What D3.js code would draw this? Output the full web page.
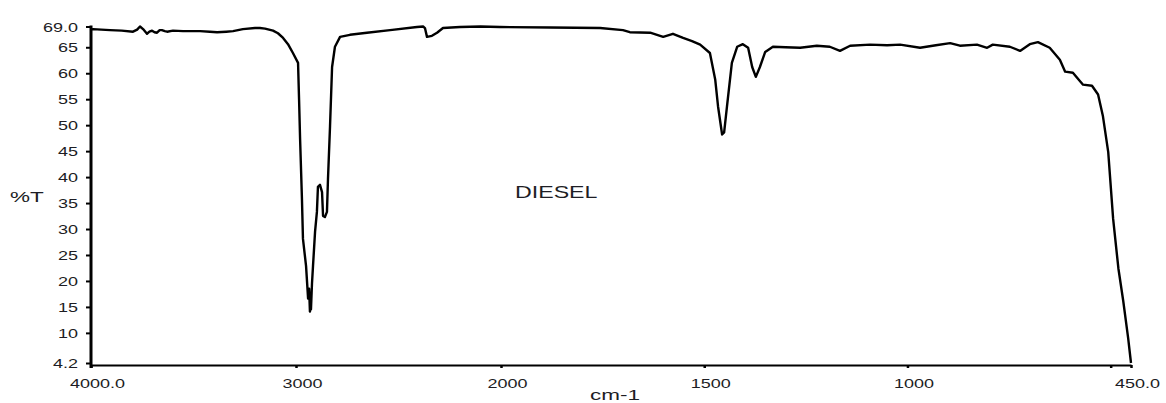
<!DOCTYPE html>
<html>
<head>
<meta charset="utf-8">
<script src="https://cdn.jsdelivr.net/npm/d3@7"></script>
<style>
  body { margin: 0; background: #fff; }
  text { font-family: "Liberation Sans", Arial, sans-serif; fill: #1d1d24; }
</style>
</head>
<body>
<div id="chart"></div>
<script>
// --- datos del espectro ---
const wavenumbers = [4000, 3990, 3950, 3907, 3850, 3795, 3775, 3761, 3746, 3727, 3715, 3702, 3690, 3678, 3665, 3654, 3640, 3629, 3600, 3551, 3500, 3468, 3420, 3385, 3340, 3307, 3259, 3200, 3176, 3151, 3112, 3088, 3063, 3039, 3015, 2990, 2985, 2980, 2971, 2966, 2951, 2941, 2936, 2932, 2929, 2927, 2922, 2917, 2907, 2898, 2893, 2883, 2873, 2868, 2859, 2849, 2844, 2834, 2824, 2810, 2785, 2737, 2654, 2541, 2410, 2380, 2371, 2361, 2337, 2312, 2283, 2200, 2100, 2005, 1879, 1756, 1700, 1683, 1633, 1601, 1577, 1552, 1530, 1510, 1486, 1473, 1466, 1456, 1451, 1444, 1432, 1419, 1405, 1392, 1382, 1373, 1363, 1350, 1331, 1300, 1264, 1223, 1191, 1166, 1141, 1092, 1050, 1018, 969, 930, 895, 871, 829, 804, 790, 748, 723, 699, 679, 650, 625, 612, 593, 568, 546, 531, 519, 506, 494, 481, 469, 457, 450];
const transmittance = [68.4, 68.5, 68.4, 68.3, 68.2, 68.0, 68.4, 69.0, 68.5, 67.6, 68.0, 68.2, 67.9, 67.8, 68.3, 68.3, 68.1, 68.0, 68.2, 68.1, 68.1, 68.1, 68.0, 67.9, 68.0, 68.1, 68.5, 68.7, 68.7, 68.6, 68.2, 67.7, 66.8, 65.6, 63.9, 62.0, 54.9, 47.3, 35.8, 28.1, 22.9, 16.6, 18.5, 14.1, 17.0, 14.5, 19.5, 22.9, 29.5, 33.3, 38.1, 38.5, 37.1, 32.5, 32.3, 33.3, 39.6, 49.8, 61.2, 65.1, 67.0, 67.4, 67.8, 68.3, 68.9, 69.0, 68.7, 67.0, 67.2, 67.8, 68.7, 68.9, 69.0, 68.9, 68.8, 68.7, 68.3, 67.9, 67.8, 67.0, 67.6, 66.8, 66.2, 65.5, 63.9, 58.8, 53.6, 48.2, 48.6, 53.6, 62.0, 65.1, 65.6, 64.9, 61.2, 59.3, 61.2, 64.1, 65.1, 65.0, 64.9, 65.3, 65.1, 64.3, 65.3, 65.5, 65.4, 65.5, 64.9, 65.4, 65.8, 65.3, 65.5, 64.9, 65.5, 65.1, 64.3, 65.6, 66.0, 64.9, 62.6, 60.3, 60.1, 57.8, 57.6, 55.9, 51.7, 44.8, 32.0, 22.4, 16.1, 9.0, 4.2];

// ticks
const xTicks = [4000, 3000, 2000, 1500, 1000, 500, 450];
const xTickLabels = ["4000.0", "3000", "2000", "1500", "1000", "", "450.0"];
const yTicks = [69.0, 65, 60, 55, 50, 45, 40, 35, 30, 25, 20, 15, 10, 4.2];
const yTickLabels = ["69.0", "65", "60", "55", "50", "45", "40", "35", "30", "25", "20", "15", "10", "4.2"];

const W = 1166, H = 403;
const STRETCH = 1.5; // el texto original está ensanchado

const svg = d3.select("#chart").append("svg")
  .attr("width", W).attr("height", H);

// escala x partida en 2000 cm-1 (doble resolución debajo)
const x = d3.scaleLinear()
  .domain([4000, 2000, 450])
  .range([91, 501, 1131]);

const y = d3.scaleLinear()
  .domain([4.2, 69.0])
  .range([363, 26.5]);

// --- eje Y ---
const yAxis = svg.append("g")
  .attr("transform", "translate(91,0)")
  .call(d3.axisLeft(y)
    .tickValues(yTicks)
    .tickSize(5)
    .tickSizeOuter(0)
    .tickFormat((d, i) => yTickLabels[i]));

yAxis.select(".domain").remove();
yAxis.append("line")
  .attr("x1", 0).attr("x2", 0)
  .attr("y1", y(69.0) - 1).attr("y2", y(4.2) + 5)
  .attr("stroke", "#000").attr("stroke-width", 3);
yAxis.selectAll(".tick line").attr("stroke", "#000").attr("stroke-width", 2);
yAxis.selectAll(".tick text")
  .attr("x", null).attr("dy", null)
  .attr("transform", `translate(-13,4.5) scale(${STRETCH},1)`)
  .style("font-size", "12px");

// --- eje X ---
const xAxis = svg.append("g")
  .attr("transform", `translate(0,${y(4.2) + 2})`)
  .call(d3.axisBottom(x)
    .tickValues(xTicks)
    .tickSize(3)
    .tickSizeOuter(0)
    .tickFormat((d, i) => xTickLabels[i]));

xAxis.select(".domain").attr("stroke", "#000").attr("stroke-width", 2);
xAxis.selectAll(".tick line").attr("stroke", "#000").attr("stroke-width", 2.5);
xAxis.selectAll(".tick text")
  .attr("y", null).attr("dy", null)
  .attr("transform", `translate(6,23) scale(${STRETCH},1)`)
  .style("font-size", "12px");

// --- etiquetas ---
svg.append("text")
  .attr("transform", `translate(10,202) scale(${STRETCH},1)`)
  .style("font-size", "15px")
  .text("%T");

svg.append("text")
  .attr("transform", `translate(615,400) scale(${STRETCH},1)`)
  .attr("text-anchor", "middle")
  .style("font-size", "15px")
  .text("cm-1");

svg.append("text")
  .attr("transform", `translate(515,198) scale(1.45,1)`)
  .style("font-size", "16px")
  .text("DIESEL");

// --- espectro ---
const data = wavenumbers.map((w, i) => ({ w: w, t: transmittance[i] }));

svg.append("path")
  .datum(data)
  .attr("fill", "none")
  .attr("stroke", "#000")
  .attr("stroke-width", 2.4)
  .attr("stroke-linejoin", "round")
  .attr("d", d3.line()
    .x(d => x(d.w))
    .y(d => y(d.t)));
</script>
</body>
</html>
